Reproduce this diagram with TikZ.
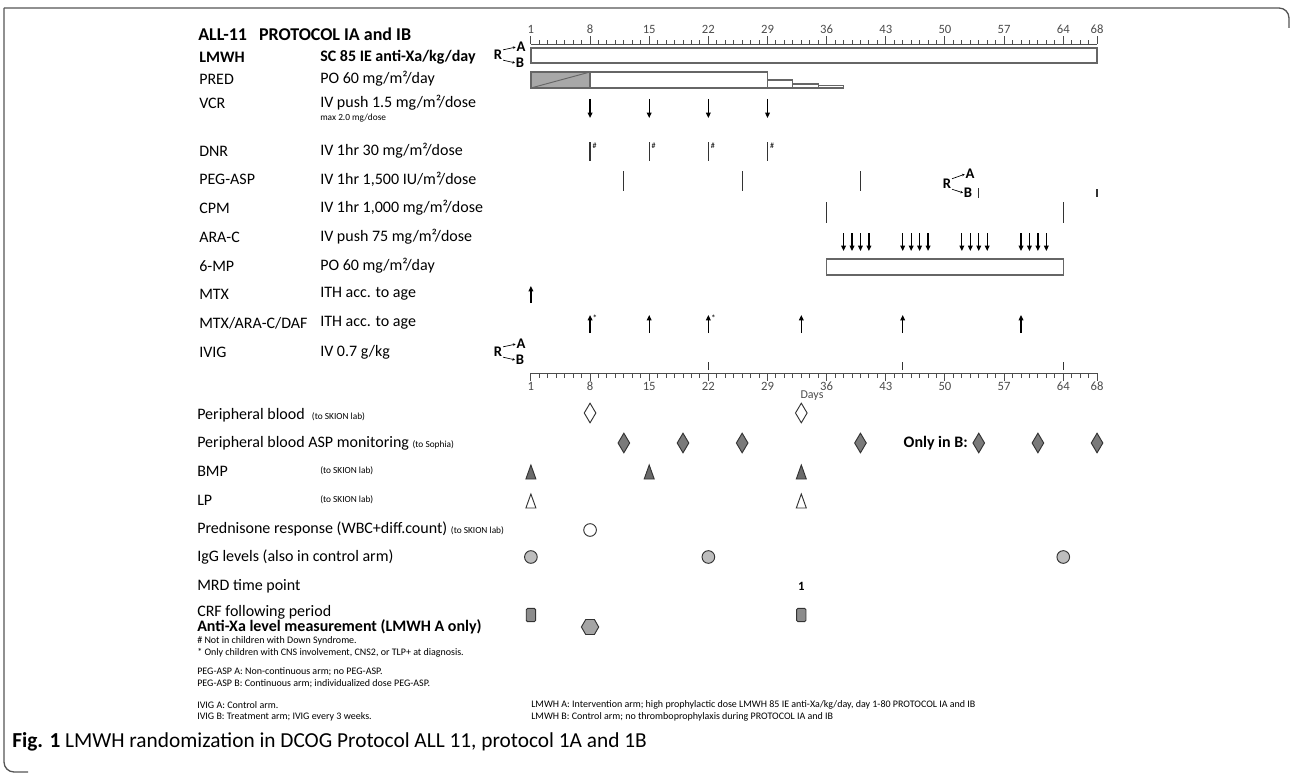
\documentclass[tikz,border=0pt]{standalone}
\usepackage{fontspec}
\setmainfont{Carlito}
\usetikzlibrary{arrows.meta,shapes.geometric}
\definecolor{framegray}{HTML}{555555}
\definecolor{predgray}{HTML}{A8A8A8}
\definecolor{aspgray}{HTML}{7A7A7A}
\definecolor{bmpgray}{HTML}{6A6A6A}
\definecolor{igggray}{HTML}{BDBDBD}
\definecolor{crfgray}{HTML}{8C8C8C}
\definecolor{xagray}{HTML}{A5A5A5}
% x position (px) of a protocol day
\newcommand{\dayx}[1]{530.9+8.45*(#1-1)}
\newcommand{\rowfont}{\fontsize{12}{14}\selectfont}

\begin{document}
\begin{tikzpicture}[x=0.75pt, y=-0.75pt,
  font=\rowfont,
  lbl/.style={anchor=west, inner sep=0pt},
  boldlbl/.style={anchor=west, inner sep=0pt, font=\rowfont\bfseries},
  smalltxt/.style={anchor=west, inner sep=0pt, font=\fontsize{7}{8.5}\selectfont},
  note/.style={anchor=west, inner sep=0pt, font=\fontsize{7.5}{9}\selectfont},
  axl/.style={inner sep=0pt, font=\fontsize{9.5}{11}\selectfont, text=black!70},
  rnd/.style={inner sep=0pt, font=\bfseries\fontsize{11}{12}\selectfont},
  rarr/.style={-{Stealth[length=2pt,width=2pt]}, line width=0.5pt, shorten <=0.5pt, shorten >=0.5pt},
  bar/.style={draw=black!60, line width=0.9pt},
  dose/.style={line width=0.9pt, black!80},
  arrdn/.style={-{Triangle[length=4pt,width=3.5pt]}, line width=0.9pt},
  arrup/.style={-{Triangle[length=4pt,width=3.5pt]}, line width=0.9pt},
  dia/.style={diamond, draw=black!80, line width=0.7pt, minimum width=9pt, minimum height=15pt, inner sep=0pt},
  tri/.style={draw=black!80, line width=0.7pt},
  dot/.style={circle, draw=black!80, line width=0.7pt, minimum size=9.5pt, inner sep=0pt},
  frame/.style={draw=framegray, line width=1pt, rounded corners=7.5pt}
]
\useasboundingbox (0,0) rectangle (1292,774);
\draw[frame] (1289,28) |- (4,8);
\draw[frame] (4,8) |- (28,772);

% header and drug rows
\node[lbl, font=\bfseries\fontsize{13.5}{15}\selectfont] (title) at (198,34) {ALL-11\hspace{9pt}PROTOCOL IA and IB};
\node[boldlbl] (lmwh) at (199,57) {LMWH};
\node[boldlbl] (lmwhd) at (320,57) {SC 85 IE anti-Xa/kg/day};
\node[lbl] (pred) at (199,79) {PRED};
\node[lbl] (predd) at (320,79) {PO 60 mg/m²/day};
\node[lbl] (vcr) at (199,103) {VCR};
\node[lbl] (vcrd) at (320,103) {IV push 1.5 mg/m²/dose};
\node[smalltxt] (vcrmax) at (320,118) {max 2.0 mg/dose};
\node[lbl] (dnr) at (199,151) {DNR};
\node[lbl] (dnrd) at (320,151) {IV 1hr 30 mg/m²/dose};
\node[lbl] (peg) at (199,179) {PEG-ASP};
\node[lbl] (pegd) at (320,179) {IV 1hr 1,500 IU/m²/dose};
\node[lbl] (cpm) at (199,208) {CPM};
\node[lbl] (cpmd) at (320,208) {IV 1hr 1,000 mg/m²/dose};
\node[lbl] (arac) at (199,237) {ARA-C};
\node[lbl] (aracd) at (320,237) {IV push 75 mg/m²/dose};
\node[lbl] (mp) at (199,266) {6-MP};
\node[lbl] (mpd) at (320,266) {PO 60 mg/m²/day};
\node[lbl] (mtx) at (199,294) {MTX};
\node[lbl] (mtxd) at (320,294) {ITH acc. to age};
\node[lbl] (trip) at (199,323) {MTX/ARA-C/DAF};
\node[lbl] (tripd) at (320,323) {ITH acc. to age};
\node[lbl] (ivig) at (199,352) {IVIG};
\node[lbl] (ivigd) at (320,352) {IV 0.7 g/kg};

% top day ruler
\draw[black!70, line width=0.7pt] ({\dayx{1}},44) -- ({\dayx{68}},44);
\foreach \d in {1,...,68} {
  \pgfmathsetmacro\len{ifthenelse(or(mod(\d,7)==1,\d==68),8,4)}
  \draw[black!70, line width=0.7pt] ({\dayx{\d}},44) -- ({\dayx{\d}},44-\len);
}
\foreach \d in {1,8,15,22,29,36,43,50,57,64,68}
  \node[axl] (top\d) at ({\dayx{\d}},29) {\d};

% LMWH
\node[rnd] (rl) at (498,55) {R};
\node[rnd] (al) at (521,47) {A};
\node[rnd] (bl) at (520,63) {B};
\draw[rarr] (rl.north east) -- (al.west);
\draw[rarr] (rl.south east) -- (bl.west);
\draw[bar] ({\dayx{1}},48) rectangle ({\dayx{68}},63);

% PRED
\fill[predgray] ({\dayx{1}},72) rectangle ({\dayx{8}},88);
\draw[black!60, line width=0.7pt] ({\dayx{1}},88) -- ({\dayx{8}},72);
\draw[bar] ({\dayx{1}},72) rectangle ({\dayx{29}},88);
\draw[bar] ({\dayx{1}},72) rectangle ({\dayx{8}},88);
\draw[bar] ({\dayx{29}},80) rectangle ({\dayx{32}},88);
\draw[bar] ({\dayx{32}},84) rectangle ({\dayx{35}},88);
\draw[bar] ({\dayx{35}},85.5) rectangle ({\dayx{38}},88);

% VCR
\foreach \d in {8,15,22,29}
  \draw[arrdn] ({\dayx{\d}},99) -- ({\dayx{\d}},118);

% DNR
\foreach \d in {8,15,22,29} {
  \draw[dose] ({\dayx{\d}},142) -- ({\dayx{\d}},161);
  \node[inner sep=0pt, font=\fontsize{6}{7}\selectfont] (dnr\d) at ({\dayx{\d}+4.5},146) {\#};
}

% PEG-ASP
\foreach \d in {12,26,40}
  \draw[dose] ({\dayx{\d}},171) -- ({\dayx{\d}},191);
\node[rnd] (rp) at (947,184) {R};
\node[rnd] (ap) at (970,174) {A};
\node[rnd] (bp) at (968,193) {B};
\draw[rarr] (rp.north east) -- (ap.west);
\draw[rarr] (rp.south east) -- (bp.west);
\draw[dose] ({\dayx{54}},188) -- ({\dayx{54}},198);
\draw[dose] ({\dayx{68}},189) -- ({\dayx{68}},197);

% CPM
\foreach \d in {36,64}
  \draw[dose] ({\dayx{\d}},202) -- ({\dayx{\d}},223);

% ARA-C
\foreach \d in {38,39,40,41,45,46,47,48,52,53,54,55,59,60,61,62}
  \draw[arrdn] ({\dayx{\d}},233) -- ({\dayx{\d}},251);

% 6-MP
\draw[bar] ({\dayx{36}},259) rectangle ({\dayx{64}},275);

% MTX and triple ITH
\draw[arrup] ({\dayx{1}},303) -- ({\dayx{1}},286);
\foreach \d in {8,15,22,33,45,59}
  \draw[arrup] ({\dayx{\d}},333) -- ({\dayx{\d}},315);
\foreach \d in {8,22}
  \node[inner sep=0pt, font=\fontsize{7}{8}\selectfont] (ast\d) at ({\dayx{\d}+5},318) {*};

% IVIG
\node[rnd] (ri) at (498,352) {R};
\node[rnd] (ai) at (521,344) {A};
\node[rnd] (bi) at (520,360) {B};
\draw[rarr] (ri.north east) -- (ai.west);
\draw[rarr] (ri.south east) -- (bi.west);
\foreach \d in {22,45,64}
  \draw[dose, line width=0.7pt] ({\dayx{\d}},362) -- ({\dayx{\d}},370);

% lower day ruler
\draw[black!70, line width=0.7pt] ({\dayx{1}},373) -- ({\dayx{68}},373);
\foreach \d in {1,...,68} {
  \pgfmathsetmacro\len{ifthenelse(or(mod(\d,7)==1,\d==68),8,5)}
  \draw[black!70, line width=0.7pt] ({\dayx{\d}},373) -- ({\dayx{\d}},373+\len);
}
\foreach \d in {1,8,15,22,29,36,43,50,57,64,68}
  \node[axl] (bot\d) at ({\dayx{\d}},386) {\d};
\node[inner sep=0pt, font=\fontsize{9}{10}\selectfont, text=black!70] (days) at (812,396) {Days};

% sampling rows
\node[lbl] (pb) at (197,415) {Peripheral blood\ \ {\fontsize{7}{8.5}\selectfont (to SKION lab)}};
\node[lbl] (asp) at (197,443) {Peripheral blood ASP monitoring {\fontsize{7}{8.5}\selectfont (to Sophia)}};
\node[lbl] (bmp) at (197,471) {BMP};
\node[smalltxt] (bmpl) at (320,471) {(to SKION lab)};
\node[lbl] (lp) at (197,500) {LP};
\node[smalltxt] (lpl) at (320,500) {(to SKION lab)};
\node[lbl] (presp) at (197,529) {Prednisone response (WBC+diff.count) {\fontsize{7}{8.5}\selectfont (to SKION lab)}};
\node[lbl] (igg) at (197,557) {IgG levels (also in control arm)};
\node[lbl] (mrd) at (197,586) {MRD time point};
\node[lbl] (crf) at (197,612) {CRF following period};
\node[boldlbl] (axa) at (197,627) {Anti-Xa level measurement (LMWH A only)};

\foreach \d in {8,33}
  \node[dia, fill=white] (pb\d) at ({\dayx{\d}},413) {};
\foreach \d in {12,19,26,40,54,61,68}
  \node[dia, fill=aspgray] (asp\d) at ({\dayx{\d}},443) {};
\node[boldlbl, anchor=east] (onlyb) at (968,443) {Only in B:};
\foreach \d in {1,15,33}
  \draw[tri, fill=bmpgray] ({\dayx{\d}-5},479) -- ({\dayx{\d}},465) -- ({\dayx{\d}+5},479) -- cycle;
\foreach \d in {1,33}
  \draw[tri, fill=white] ({\dayx{\d}-5},508) -- ({\dayx{\d}},494) -- ({\dayx{\d}+5},508) -- cycle;
\node[dot, fill=white] (pr8) at ({\dayx{8}},530) {};
\foreach \d in {1,22,64}
  \node[dot, fill=igggray] (igg\d) at ({\dayx{\d}},557) {};
\node[inner sep=0pt, font=\bfseries\fontsize{9.5}{10}\selectfont] (mrd33) at ({\dayx{33}},586) {1};
\foreach \d in {1,33}
  \node[draw=black!80, fill=crfgray, line width=0.7pt, rounded corners=1pt, minimum width=7pt, minimum height=10pt, inner sep=0pt] (crf\d) at ({\dayx{\d}},615) {};
\node[regular polygon, regular polygon sides=6, draw=black!80, fill=xagray, line width=0.7pt, minimum size=13pt, inner sep=0pt] (axa8) at ({\dayx{8}},627) {};

% notes
\node[note] (n1) at (197,641) {\# Not in children with Down Syndrome.};
\node[note] (n2) at (197,653) {* Only children with CNS involvement, CNS2, or TLP+ at diagnosis.};
\node[note] (n3) at (197,672) {PEG-ASP A: Non-continuous arm; no PEG-ASP.};
\node[note] (n4) at (197,684) {PEG-ASP B: Continuous arm; individualized dose PEG-ASP.};
\node[note] (n5) at (197,705) {IVIG A: Control arm.};
\node[note] (n6) at (197,717) {IVIG B: Treatment arm; IVIG every 3 weeks.};
\node[note] (n7) at (531,705) {LMWH A: Intervention arm; high prophylactic dose LMWH 85 IE anti-Xa/kg/day, day 1-80 PROTOCOL IA and IB};
\node[note] (n8) at (531,717) {LMWH B: Control arm; no thromboprophylaxis during PROTOCOL IA and IB};

\node[lbl, font=\fontsize{16}{18}\selectfont] (cap) at (12,742) {\textbf{Fig. 1} LMWH randomization in DCOG Protocol ALL 11, protocol 1A and 1B};
\end{tikzpicture}
\end{document}
